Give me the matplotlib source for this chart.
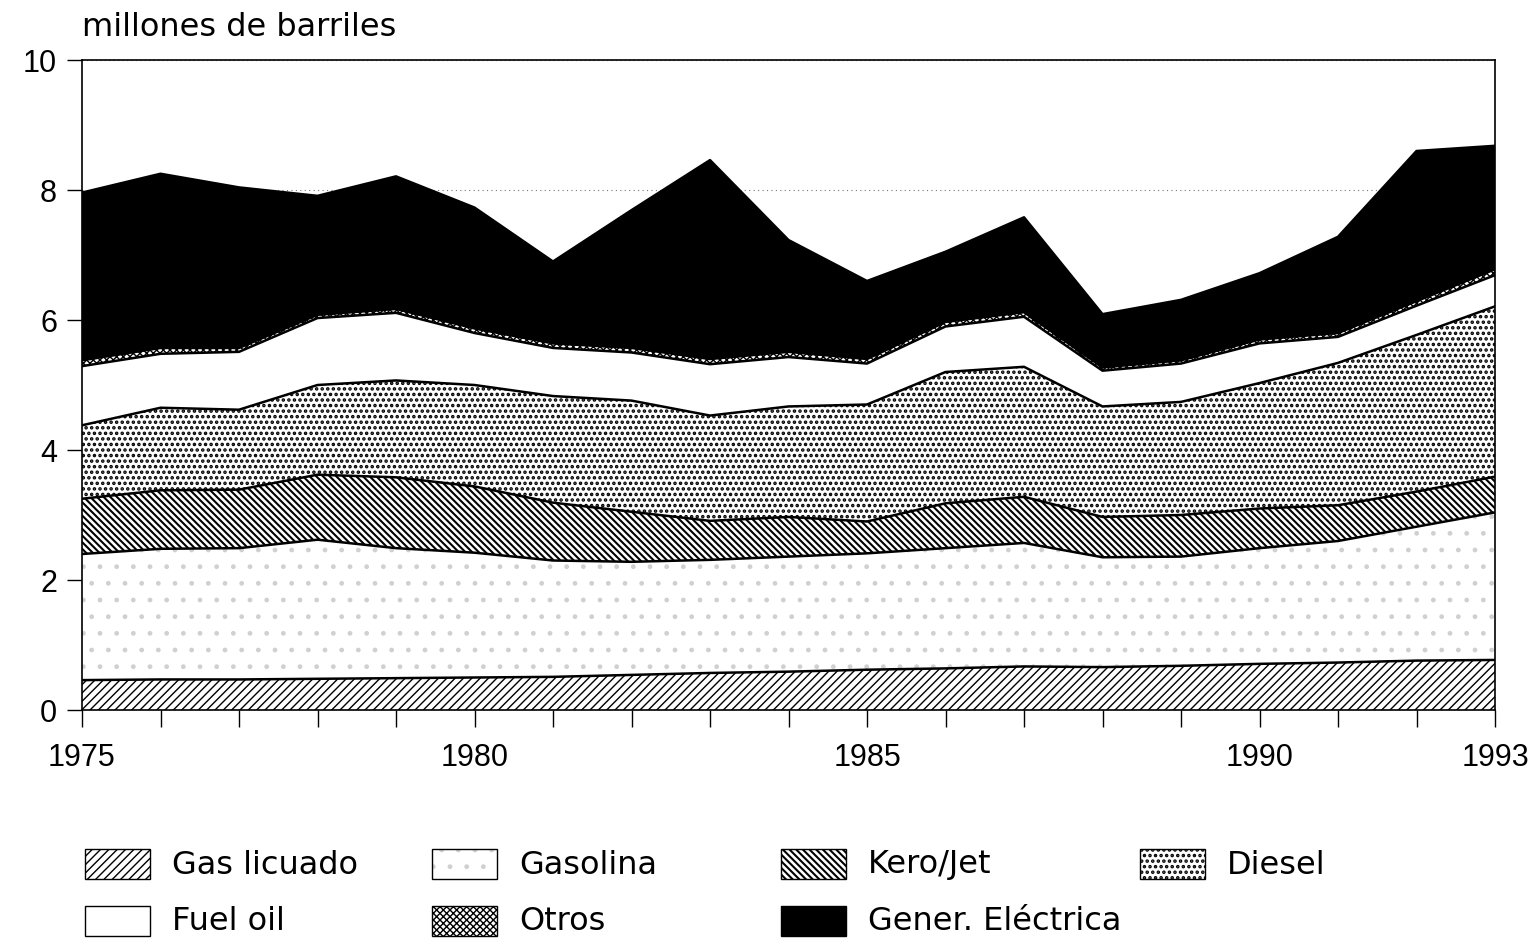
import numpy as np
import matplotlib.pyplot as plt
from matplotlib.patches import Rectangle

plt.rcParams['font.family'] = ['Liberation Sans', 'DejaVu Sans']
plt.rcParams['hatch.linewidth'] = 1.0

years = np.arange(1975, 1994)

# millones de barriles, por producto (apilado)
gas_licuado = [0.46, 0.47, 0.47, 0.48, 0.49, 0.50, 0.51, 0.54, 0.57, 0.59,
               0.62, 0.64, 0.67, 0.66, 0.68, 0.71, 0.73, 0.76, 0.77]
gasolina = [1.94, 2.01, 2.02, 2.14, 2.00, 1.92, 1.79, 1.74, 1.74, 1.77,
            1.79, 1.85, 1.90, 1.69, 1.68, 1.78, 1.87, 2.06, 2.27]
kero_jet = [0.85, 0.90, 0.90, 1.00, 1.09, 1.02, 0.89, 0.77, 0.60, 0.61,
            0.49, 0.69, 0.71, 0.62, 0.64, 0.61, 0.55, 0.54, 0.55]
diesel = [1.13, 1.27, 1.23, 1.38, 1.49, 1.56, 1.64, 1.71, 1.62, 1.70,
          1.80, 2.02, 2.00, 1.70, 1.74, 1.93, 2.19, 2.41, 2.62]
fuel_oil = [0.91, 0.83, 0.89, 1.03, 1.04, 0.80, 0.74, 0.74, 0.79, 0.76,
            0.63, 0.70, 0.77, 0.55, 0.59, 0.61, 0.40, 0.45, 0.48]
otros = [0.09, 0.09, 0.06, 0.05, 0.06, 0.07, 0.07, 0.07, 0.08, 0.08,
         0.07, 0.07, 0.07, 0.05, 0.05, 0.06, 0.06, 0.07, 0.09]
gener_electrica = [2.58, 2.68, 2.47, 1.83, 2.04, 1.86, 1.26, 2.12, 3.06, 1.72,
                   1.20, 1.08, 1.46, 0.82, 0.93, 1.02, 1.48, 2.31, 1.90]

series_names = ['Gas licuado', 'Gasolina', 'Kero/Jet', 'Diesel',
                'Fuel oil', 'Otros', 'Gener. Eléctrica']
year_labels = [1975, 1980, 1985, 1990, 1993]

# estilo de relleno de cada serie: (color, hatch, color del hatch, grosor del hatch)
styles = [
    ('white', '////', 'black', 1.0),
    ('white', '.', '#d0d0d0', 1.0),
    ('white', '\\\\\\\\\\', 'black', 1.5),
    ('white', '...', 'black', 1.7),
    ('white', '', 'black', 1.0),
    ('white', 'xxxxx', 'black', 1.0),
    ('black', '', 'black', 1.0),
]


def apply_style(artist, hatch, hc, hlw):
    artist.set_hatch(hatch)
    artist.set_edgecolor(hc)
    if hasattr(artist, 'set_hatch_linewidth'):
        artist.set_hatch_linewidth(hlw)


W, H = 1539, 942
fig = plt.figure(figsize=(W / 100, H / 100), dpi=100)
ax = fig.add_axes([82 / W, 1 - 710 / H, (1495 - 82) / W, 650 / H])

data = [gas_licuado, gasolina, kero_jet, diesel, fuel_oil, otros, gener_electrica]
polys = ax.stackplot(years, *data, colors=[s[0] for s in styles], linewidth=0, zorder=2)
for p, (fc, hatch, hc, hlw) in zip(polys, styles):
    apply_style(p, hatch, hc, hlw)
    p.set_linewidth(0)

# bordes entre capas
cum = np.cumsum(np.array(data), axis=0)
for row in cum:
    ax.plot(years, row, color='black', lw=1.8, zorder=3)

ax.set_xlim(1975, 1993)
ax.set_ylim(0, 10)
ax.set_yticks([0, 2, 4, 6, 8, 10])
ax.set_xticks(year_labels)
ax.set_xticklabels([str(y) for y in year_labels])
ax.set_xticks(years, minor=True)

ax.tick_params(axis='y', direction='out', length=11, width=1, pad=7, labelsize=22)
ax.tick_params(axis='x', which='both', direction='out', length=12, width=1, pad=12, labelsize=22)

ax.yaxis.grid(True, linestyle=(0, (1, 3)), color='#777777', lw=0.8)
ax.set_axisbelow(True)
for s in ax.spines.values():
    s.set_linewidth(1.2)
    s.set_zorder(4)

fig.text(82 / W, 1 - 28 / H, 'millones de barriles', ha='left', va='center',
         fontsize=23, family='DejaVu Sans')

# leyenda en dos filas
col_x = [85, 432, 781, 1140]
row_y = [849, 906]
for i, (name, (fc, hatch, hc, hlw)) in enumerate(zip(series_names, styles)):
    r, c = divmod(i, 4)
    x0, y0 = col_x[c], row_y[r]
    rect = Rectangle((x0 / W, 1 - (y0 + 30) / H), 65 / W, 30 / H,
                     transform=fig.transFigure, facecolor=fc, lw=0)
    apply_style(rect, hatch, hc, hlw)
    fig.add_artist(rect)
    fig.add_artist(Rectangle((x0 / W, 1 - (y0 + 30) / H), 65 / W, 30 / H,
                             transform=fig.transFigure, facecolor='none',
                             edgecolor='black', lw=1.0))
    fig.text((x0 + 87) / W, 1 - (y0 + 16) / H, name, ha='left', va='center',
             fontsize=23, family='DejaVu Sans')

fig.savefig('out.png', dpi=100)
